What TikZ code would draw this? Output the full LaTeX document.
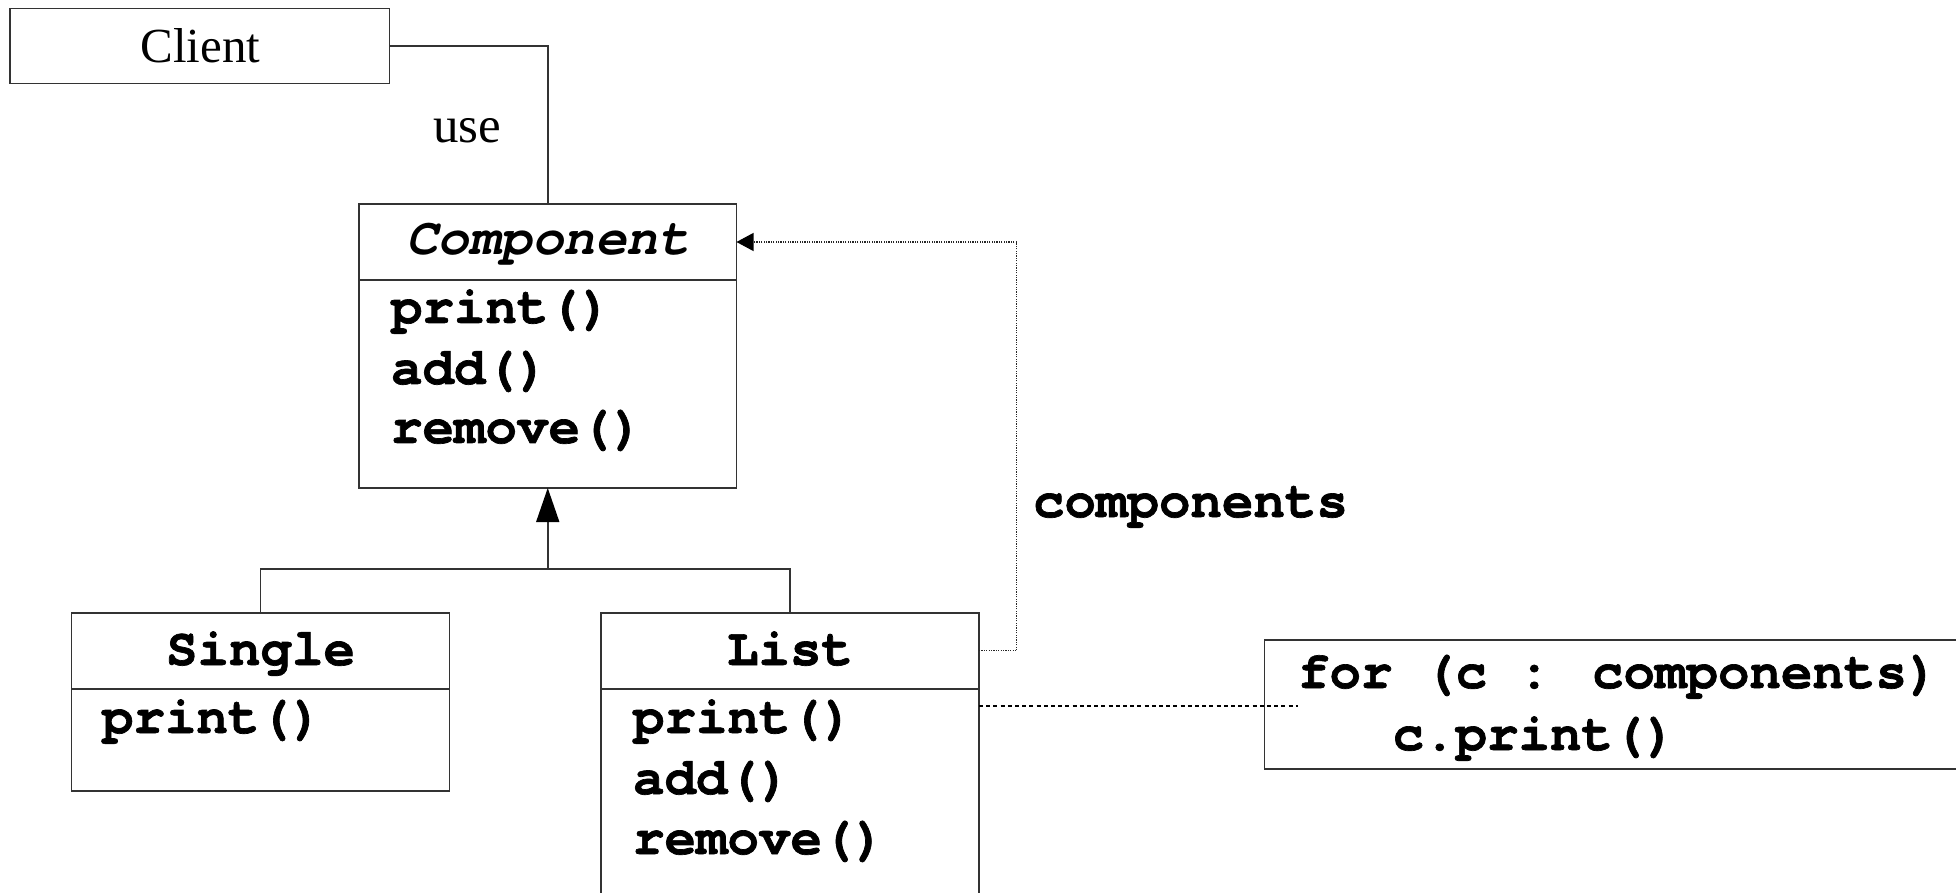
\documentclass[tikz,border=0pt]{standalone}
\usepackage{fontspec}
\newfontfamily\labelserif{Liberation Serif}
\newfontfamily\codeface{TeX Gyre Cursor}[BoldFeatures={FakeBold=1.3}]
\usetikzlibrary{arrows.meta,calc}

% Drawing units: one unit is half a point, y grows downwards.
\tikzset{
  line/.style={draw=black!80, line width=0.8pt},
  umlbox/.style={line, inner sep=0pt, outer sep=0pt, rectangle},
  code/.style={font=\fontsize{26.25}{31}\selectfont\codeface\bfseries, inner sep=0pt, outer sep=0pt, anchor=base west},
  plain/.style={font=\fontsize{24.5}{29}\selectfont\labelserif, inner sep=0pt, outer sep=0pt},
  assoc/.style={draw=black!85, line width=0.6pt, dash pattern=on 0.6pt off 0.6pt},
  notelink/.style={draw=black, line width=0.6pt, dash pattern=on 2pt off 1.6pt},
}

\begin{document}
\begin{tikzpicture}[x=0.5pt, y=-0.5pt]
  \useasboundingbox (0,0) rectangle (1956,893);
  \clip (0,0) rectangle (1956,893);

  % Client
  \node[umlbox, minimum width=189.8pt, minimum height=37.5pt] (client) at (199.8,46) {};
  \node[plain, anchor=base] (clientlabel) at (200.5,62.7) {Client};

  % Component (abstract)
  \node[umlbox, minimum width=188.75pt, minimum height=38pt] (comphead) at (547.75,242) {};
  \node[umlbox, minimum width=188.75pt, minimum height=104pt] (compbody) at (547.75,384) {};
  \node[code, anchor=base] (comptitle) at (548,255) {\itshape Component};
  \node[code] (compm1) at (391,323) {print()};
  \node[code] (compm2) at (391,384) {add()};
  \node[code] (compm3) at (391,443) {remove()};

  % Single
  \node[umlbox, minimum width=189pt, minimum height=38.15pt] (singlehead) at (260.5,650.85) {};
  \node[umlbox, minimum width=189pt, minimum height=50.85pt] (singlebody) at (260.5,739.85) {};
  \node[code, anchor=base] (singletitle) at (260.5,665) {Single};
  \node[code] (singlem1) at (102,733) {print()};

  % List
  \node[umlbox, minimum width=189pt, minimum height=38.15pt] (listhead) at (790,650.85) {};
  \node[umlbox, minimum width=189pt, minimum height=135.5pt] (listbody) at (790,824.5) {};
  \node[code, anchor=base] (listtitle) at (790,665) {List};
  \node[code] (listm1) at (633,733) {print()};
  \node[code] (listm2) at (633,794) {add()};
  \node[code] (listm3) at (633,854) {remove()};

  % Note attached to List.print()
  \node[umlbox, minimum width=417.85pt, minimum height=64.5pt] (note) at (1682.15,704.5) {};
  \node[code] (noteline1) at (1298,688) {for (c : components)};
  \node[code] (noteline2) at (1392.5,750) {c.print()};

  % Client uses Component
  \draw[line] (client.east) -| (comphead.north);
  \node[plain, anchor=base, font=\fontsize{25.5}{30}\selectfont\labelserif] (uselabel) at (467,142.7) {use};

  % Generalisation
  \coordinate (fork) at (547.75,569);
  \draw[line] (singlehead.north) |- (fork) -| (listhead.north);
  \draw[line, -{Triangle[length=17pt, width=11.5pt, color=black]}] (fork) -- (compbody.south);

  % Aggregation of components
  \draw[assoc, -{Triangle[length=8.5pt, width=9pt, color=black]}]
    (listhead.east) -- ++(37.7,0) coordinate (bend) |- (comphead.east);
  \node[code] (rolelabel) at (1033,517) {components};

  % Note link
  \draw[notelink] ([yshift=-8.5pt]listbody.north east) -- ([yshift=-8.5pt]listbody.north east -| noteline1.west);
\end{tikzpicture}
\end{document}
